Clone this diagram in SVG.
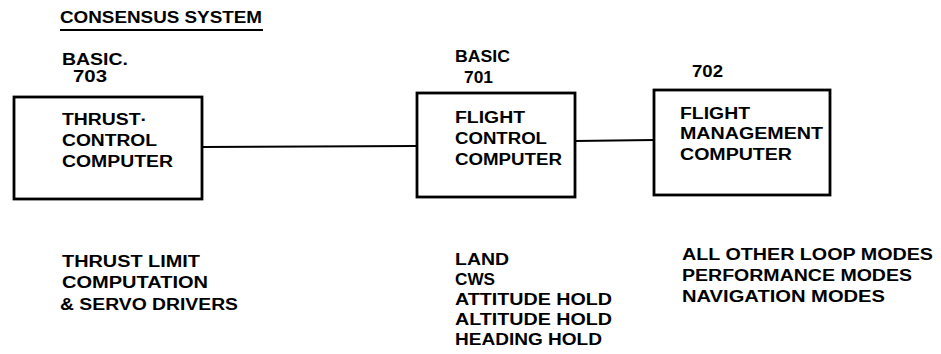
<svg xmlns="http://www.w3.org/2000/svg" width="941" height="354" viewBox="0 0 941 354">
<style>
text{font-family:"Liberation Sans",Arial,sans-serif;font-weight:bold;font-size:16px;fill:#000}
.box{fill:#fff;stroke:#000;stroke-width:2.8}
.conn{stroke:#000;stroke-width:2;fill:none}
</style>
<rect width="941" height="354" fill="#fff"/>
<g id="title">
<text x="60" y="23" textLength="202" lengthAdjust="spacingAndGlyphs">CONSENSUS SYSTEM</text>
<line x1="60" y1="30" x2="263" y2="30" stroke="#000" stroke-width="2"/>
</g>
<g id="connectors">
<line class="conn" x1="202" y1="147" x2="417" y2="146"/>
<line class="conn" x1="575" y1="141" x2="654" y2="140"/>
</g>
<g id="node-703">
<text x="62" y="65" textLength="66" lengthAdjust="spacingAndGlyphs">BASIC.</text>
<text x="73" y="82" textLength="34" lengthAdjust="spacingAndGlyphs">703</text>
<rect class="box" x="14" y="97" width="188" height="102"/>
<text x="62" y="125" textLength="85" lengthAdjust="spacingAndGlyphs">THRUST·</text>
<text x="62" y="146" textLength="95" lengthAdjust="spacingAndGlyphs">CONTROL</text>
<text x="62" y="167" textLength="111" lengthAdjust="spacingAndGlyphs">COMPUTER</text>
<text x="62" y="267" textLength="138" lengthAdjust="spacingAndGlyphs">THRUST LIMIT</text>
<text x="62" y="288" textLength="146" lengthAdjust="spacingAndGlyphs">COMPUTATION</text>
<text x="60" y="310" textLength="178" lengthAdjust="spacingAndGlyphs">&amp; SERVO DRIVERS</text>
</g>
<g id="node-701">
<text x="455" y="62" textLength="55" lengthAdjust="spacingAndGlyphs">BASIC</text>
<text x="464" y="83" textLength="29" lengthAdjust="spacingAndGlyphs">701</text>
<rect class="box" x="417" y="93" width="158" height="104"/>
<text x="455" y="123" textLength="70" lengthAdjust="spacingAndGlyphs">FLIGHT</text>
<text x="455" y="144" textLength="92" lengthAdjust="spacingAndGlyphs">CONTROL</text>
<text x="455" y="165" textLength="107" lengthAdjust="spacingAndGlyphs">COMPUTER</text>
<text x="455" y="265" textLength="54" lengthAdjust="spacingAndGlyphs">LAND</text>
<text x="455" y="285" textLength="40" lengthAdjust="spacingAndGlyphs">CWS</text>
<text x="455" y="305" textLength="157" lengthAdjust="spacingAndGlyphs">ATTITUDE HOLD</text>
<text x="455" y="325" textLength="157" lengthAdjust="spacingAndGlyphs">ALTITUDE HOLD</text>
<text x="455" y="345" textLength="147" lengthAdjust="spacingAndGlyphs">HEADING HOLD</text>
</g>
<g id="node-702">
<text x="692" y="77" textLength="31" lengthAdjust="spacingAndGlyphs">702</text>
<rect class="box" x="654" y="90" width="176" height="105"/>
<text x="680" y="119" textLength="70" lengthAdjust="spacingAndGlyphs">FLIGHT</text>
<text x="680" y="139" textLength="143" lengthAdjust="spacingAndGlyphs">MANAGEMENT</text>
<text x="680" y="160" textLength="112" lengthAdjust="spacingAndGlyphs">COMPUTER</text>
<text x="682" y="260" textLength="251" lengthAdjust="spacingAndGlyphs">ALL OTHER LOOP MODES</text>
<text x="682" y="281" textLength="230" lengthAdjust="spacingAndGlyphs">PERFORMANCE MODES</text>
<text x="682" y="302" textLength="203" lengthAdjust="spacingAndGlyphs">NAVIGATION MODES</text>
</g>
</svg>
